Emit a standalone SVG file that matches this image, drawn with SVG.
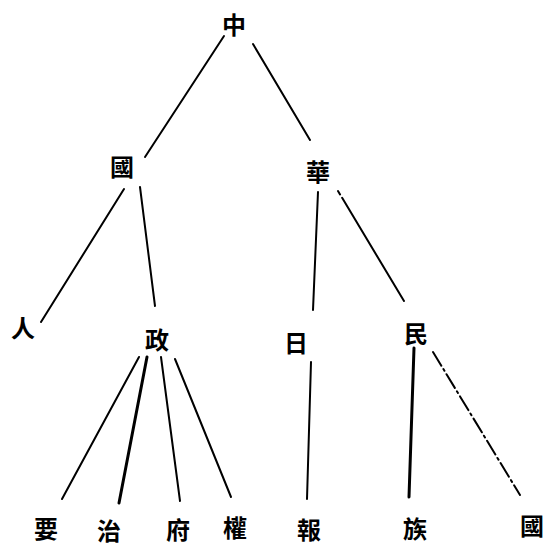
<svg xmlns="http://www.w3.org/2000/svg" width="546" height="545" viewBox="0 0 546 545">
<style>
.n text{font-family:"Noto Sans CJK TC","Noto Sans CJK SC",sans-serif;font-size:24px;font-weight:bold;fill:#000;text-anchor:middle;dominant-baseline:central}
.e line{stroke:#000;stroke-width:2;stroke-linecap:round;fill:none}
.e .thick{stroke-width:3}
.e .dd{stroke-dasharray:16 4 2 4}
</style>
<rect width="546" height="545" fill="#fff"/>
<g class="e" id="connectors">
<line x1="224" y1="36" x2="145" y2="157"/>
<line x1="253" y1="44" x2="310" y2="140"/>
<line x1="124" y1="189" x2="41" y2="322"/>
<line x1="140" y1="187" x2="155" y2="306"/>
<line x1="318" y1="192" x2="313" y2="310"/>
<line x1="338" y1="191" x2="404" y2="301" stroke-dasharray="4 4 200"/>
<line x1="139" y1="357" x2="62" y2="499"/>
<line class="thick" x1="147" y1="357" x2="119" y2="503"/>
<line x1="161" y1="357" x2="180" y2="501"/>
<line x1="175" y1="359" x2="231" y2="497"/>
<line x1="311" y1="362" x2="307" y2="499"/>
<line class="thick" x1="414" y1="348" x2="409" y2="497"/>
<line class="dd" x1="433" y1="352" x2="520" y2="495"/>
</g>
<g class="n" id="n-zhong"><text x="234" y="23">中</text></g>
<g class="n" id="n-guo1"><text x="122" y="165">國</text></g>
<g class="n" id="n-hua"><text x="318" y="170">華</text></g>
<g class="n" id="n-ren"><text x="23" y="326">人</text></g>
<g class="n" id="n-zheng"><text x="157" y="338">政</text></g>
<g class="n" id="n-ri"><text x="296" y="341">日</text></g>
<g class="n" id="n-min"><text x="416" y="332">民</text></g>
<g class="n" id="n-yao"><text x="46" y="527">要</text></g>
<g class="n" id="n-zhi"><text x="109" y="529">治</text></g>
<g class="n" id="n-fu"><text x="178" y="528">府</text></g>
<g class="n" id="n-quan"><text x="235" y="526">權</text></g>
<g class="n" id="n-bao"><text x="309" y="528">報</text></g>
<g class="n" id="n-zu"><text x="415" y="527">族</text></g>
<g class="n" id="n-guo2"><text x="532" y="524">國</text></g>
</svg>
